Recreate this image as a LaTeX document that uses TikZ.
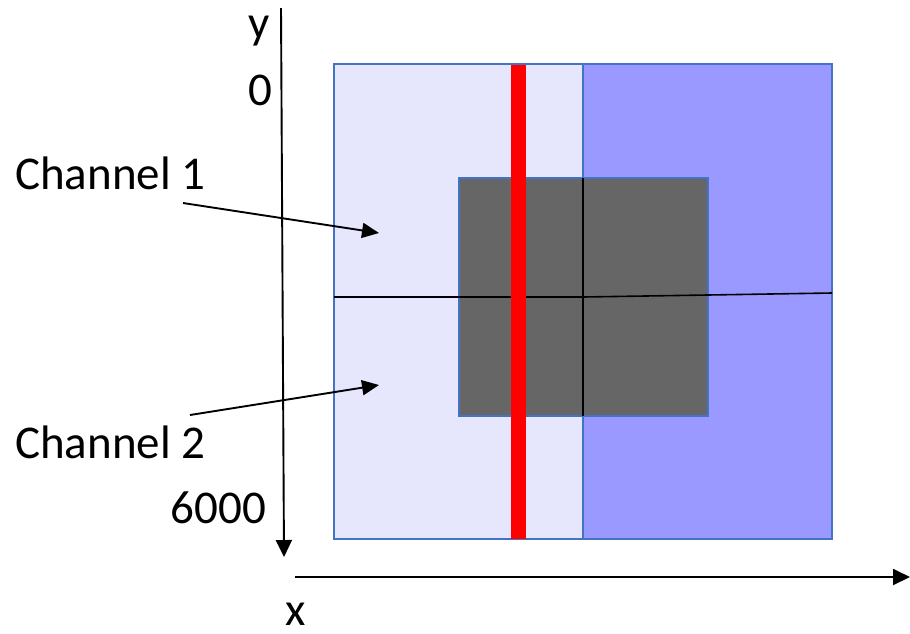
\documentclass[tikz,border=0pt]{standalone}
\usepackage{fontspec}
\setmainfont{Carlito}
\usetikzlibrary{arrows.meta}
\definecolor{lav}{HTML}{E6E6FC}
\definecolor{blu}{HTML}{9999FF}
\definecolor{edge}{HTML}{4472C4}
\definecolor{dgray}{HTML}{666666}
\tikzset{
  lbl/.style={inner sep=0pt, font=\fontsize{47}{56}\selectfont},
  ax/.style={line width=1.9pt, -{Triangle[length=17pt,width=16pt]}},
  ptr/.style={line width=1.9pt, -{Triangle[length=17pt,width=15pt]}},
  region/.style={draw=edge, line width=1.6pt}
}
\begin{document}
\begin{tikzpicture}[x=1pt,y=-1pt]
\useasboundingbox (0,0) rectangle (910,633);
% regions
\filldraw[region, fill=lav] (334,64) rectangle (583,539);
\filldraw[region, fill=blu] (583,64) rectangle (832,539);
\filldraw[region, fill=dgray] (459,178) rectangle (708,416);
\draw[line width=1.6pt] (583,178) -- (583,416);
\draw[line width=1.6pt] (334,297) -- (583,297) -- (832,293);
\fill[red] (511,65) rectangle (526,539);
% axes
\coordinate (ytop) at (281,8);
\coordinate (ybot) at (284,557);
\coordinate (xl) at (295,577);
\coordinate (xr) at (910,577);
\draw[ax] (ytop) -- (ybot);
\draw[ax] (xl) -- (xr);
% labels
\node[lbl, anchor=base] (ylab) at (259,38) {y};
\node[lbl, anchor=base] (zero) at (260,105) {0};
\node[lbl, anchor=base east] (six) at (266,523) {6000};
\node[lbl, anchor=base, text depth=0pt] (xlab) at (296,625) {x};
\node[lbl, anchor=base west] (ch1) at (15,189) {Channel 1};
\node[lbl, anchor=base west] (ch2) at (15,458) {Channel 2};
% pointers
\coordinate (c1s) at (183,203);
\coordinate (c1e) at (379,233);
\coordinate (c2s) at (190,415);
\coordinate (c2e) at (379,385);
\draw[ptr] (c1s) -- (c1e);
\draw[ptr] (c2s) -- (c2e);
\end{tikzpicture}
\end{document}
